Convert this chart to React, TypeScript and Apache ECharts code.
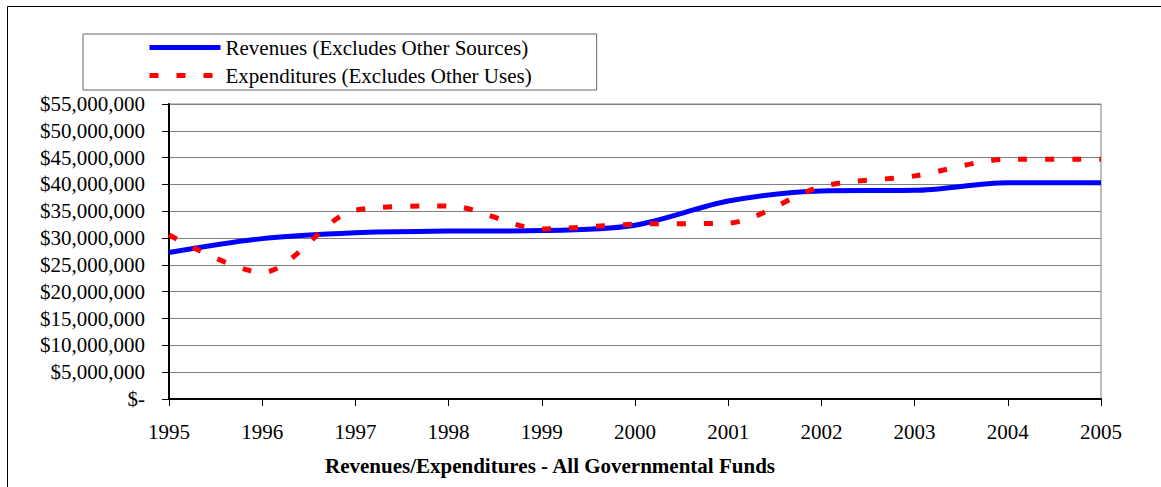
import React, { useEffect, useRef } from "react";
import * as echarts from "echarts";

const years = ["1995", "1996", "1997", "1998", "1999", "2000", "2001", "2002", "2003", "2004", "2005"];
const revenues = [27300000, 29900000, 31000000, 31300000, 31400000, 32400000, 36900000, 38800000, 38900000, 40300000, 40300000];
const expenditures = [30600000, 23600000, 35200000, 36000000, 31700000, 32600000, 32800000, 39600000, 41600000, 44700000, 44700000];

const revenuesName = "Revenues (Excludes Other Sources)";
const expendituresName = "Expenditures (Excludes Other Uses)";
const chartTitle = "Revenues/Expenditures - All Governmental Funds";

const FONT = "'Liberation Serif', 'Times New Roman', serif";
const FONT_SIZE = 21;

function formatDollars(v: number): string {
  if (v === 0) return "$-";
  return "$" + v.toLocaleString("en-US");
}

export default function App() {
  const ref = useRef<HTMLDivElement>(null);

  useEffect(() => {
    document.body.style.margin = "0";
    if (!ref.current) return;
    const chart = echarts.init(ref.current, undefined, { renderer: "svg" });
    chart.setOption({
      animation: false,
      backgroundColor: "#fff",
      textStyle: { fontFamily: FONT, color: "#000" },
      graphic: [
        {
          type: "rect",
          shape: { x: 7.5, y: 6.5, width: 1300, height: 600 },
          style: { fill: "none", stroke: "#000", lineWidth: 1 },
          silent: true,
        },
      ],
      title: {
        text: chartTitle,
        left: 325,
        top: 455,
        padding: 0,
        textStyle: { fontFamily: FONT, fontSize: FONT_SIZE, fontWeight: "bold", color: "#000" },
      },
      legend: {
        orient: "vertical",
        left: 83,
        top: 34,
        padding: [3, 65, 4, 64],
        itemWidth: 71,
        itemHeight: 20,
        itemGap: 7,
        borderColor: "#666",
        borderWidth: 1,
        selectedMode: false,
        itemStyle: { opacity: 0 },
        lineStyle: { width: 5 },
        textStyle: { fontFamily: FONT, fontSize: FONT_SIZE, lineHeight: 20, color: "#000" },
        data: [revenuesName, expendituresName],
      },
      grid: {
        left: 169,
        right: 60,
        top: 104,
        bottom: 88,
        show: true,
        borderColor: "#808080",
        borderWidth: 1,
      },
      xAxis: {
        type: "category",
        data: years,
        boundaryGap: false,
        axisLine: { lineStyle: { color: "#000", width: 2 } },
        axisTick: { show: true, length: 7, lineStyle: { color: "#000", width: 1 } },
        axisLabel: { fontFamily: FONT, fontSize: FONT_SIZE, color: "#000", margin: 22, interval: 0 },
        splitLine: { show: false },
      },
      yAxis: {
        type: "value",
        min: 0,
        max: 55000000,
        interval: 5000000,
        axisLine: { show: true, lineStyle: { color: "#000", width: 2 } },
        axisTick: { show: true, length: 7, lineStyle: { color: "#000", width: 1 } },
        axisLabel: {
          fontFamily: FONT,
          fontSize: FONT_SIZE,
          color: "#000",
          margin: 24,
          formatter: (v: number) => formatDollars(v),
        },
        splitLine: { show: true, lineStyle: { color: "#808080", width: 1 } },
      },
      series: [
        {
          name: revenuesName,
          type: "line",
          data: revenues,
          smooth: 0.3,
          symbol: "none",
          lineStyle: { color: "#0000ff", width: 5 },
          itemStyle: { color: "#0000ff" },
          z: 3,
        },
        {
          name: expendituresName,
          type: "line",
          data: expenditures,
          smooth: 0.3,
          symbol: "none",
          lineStyle: { color: "#ff0000", width: 5, type: [9, 18] },
          itemStyle: { color: "#ff0000" },
          z: 4,
        },
      ],
    });
    return () => chart.dispose();
  }, []);

  return <div ref={ref} style={{ width: 1161, height: 487 }} />;
}
